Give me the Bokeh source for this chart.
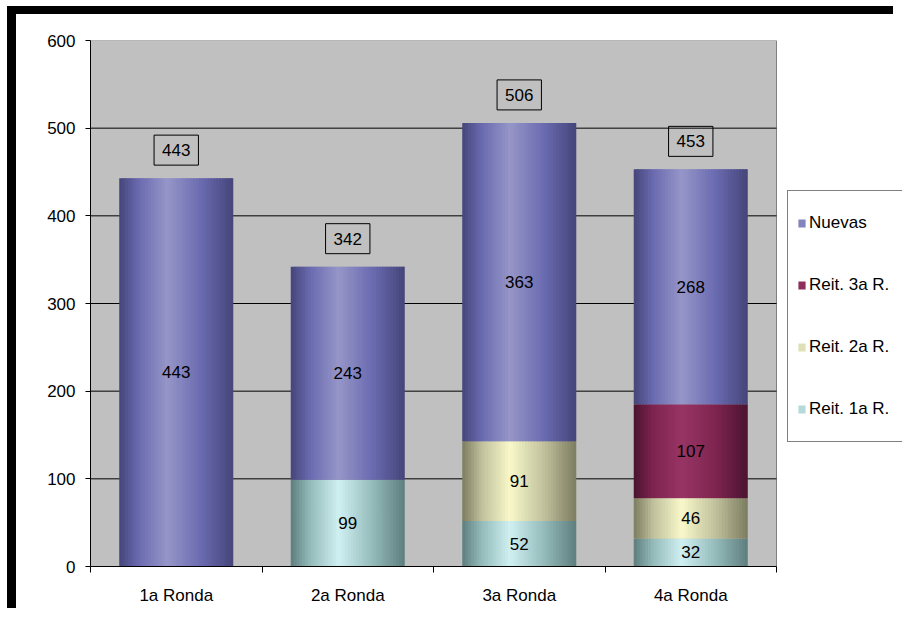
from bokeh.plotting import figure
from bokeh.models import (ColumnDataSource, FixedTicker, LabelSet, Legend,
                          LegendItem, Range1d)
from bokeh.core.properties import value
from bokeh.embed import file_html
from bokeh.resources import INLINE

# ---------------- data ----------------
rounds = ["1a Ronda", "2a Ronda", "3a Ronda", "4a Ronda"]
series_names = ["Reit. 1a R.", "Reit. 2a R.", "Reit. 3a R.", "Nuevas"]  # bottom -> top
reit1 = [0, 99, 52, 32]
reit2 = [0, 0, 91, 46]
reit3 = [0, 0, 0, 107]
nuevas = [443, 243, 363, 268]
y_ticks = [0, 100, 200, 300, 400, 500, 600]

series_values = [reit1, reit2, reit3, nuevas]

# gradient styles (dark edge, base, light centre)
palettes = {
    "Nuevas": ("#45457A", "#6A6AB0", "#9696C9"),
    "Reit. 3a R.": ("#4A1430", "#7E244F", "#983565"),
    "Reit. 2a R.": ("#7C7C60", "#C0C09C", "#F8F8CA"),
    "Reit. 1a R.": ("#5E7E7E", "#94BABA", "#D0F0F2"),
}


def h2r(h):
    h = h.lstrip("#")
    return [int(h[i:i + 2], 16) for i in (0, 2, 4)]


def r2h(c):
    return "#%02x%02x%02x" % tuple(int(round(v)) for v in c)


def grad(pal, t):
    dark, base, light = (h2r(c) for c in pal)
    stops = [(0.0, dark), (0.17, base), (0.42, light), (0.72, base), (1.0, dark)]
    for (t0, c0), (t1, c1) in zip(stops[:-1], stops[1:]):
        if t0 <= t <= t1:
            f = (t - t0) / (t1 - t0)
            return r2h([a + (b - a) * f for a, b in zip(c0, c1)])
    return r2h(stops[-1][1])


N = 40
BAR_W = 0.665
NC = len(rounds)
W, H = 886, 602
LEFT, TOP, BOTTOM = 74, 26, 50
PLOT_PX = 686  # width of the grey plot area
frame_w = W - LEFT
x_end = NC * frame_w / PLOT_PX
y_max = y_ticks[-1]

p = figure(width=W, height=H, output_backend="svg", toolbar_location=None,
           x_range=Range1d(0, x_end), y_range=Range1d(0, y_max),
           min_border_left=LEFT, min_border_right=0, min_border_top=TOP,
           min_border_bottom=BOTTOM)
p.styles = {"margin-left": "7px", "margin-top": "6px",
            "border-left": "9px solid black", "border-top": "8px solid black"}
p.background_fill_color = "white"
p.border_fill_color = "white"
p.outline_line_color = None

FONT = "Liberation Sans"
FS = "17px"

# grey plot area + grid
p.quad(left=[0], right=[NC], bottom=[0], top=[y_max], fill_color="#C0C0C0",
       line_color="#808080", line_width=1)
p.grid.visible = False
gy = y_ticks[1:-1]
p.segment(x0=[0] * len(gy), x1=[NC] * len(gy), y0=gy, y1=gy,
          line_color="black", line_width=1)

# y axis
p.yaxis.ticker = FixedTicker(ticks=y_ticks)
p.yaxis.axis_line_color = "black"
p.yaxis.major_tick_line_color = "black"
p.yaxis.major_tick_out = 5
p.yaxis.major_tick_in = 0
p.yaxis.minor_tick_line_color = None
p.yaxis.major_label_text_font = FONT
p.yaxis.major_label_text_font_size = FS
p.yaxis.major_label_text_color = "black"
p.yaxis.major_label_standoff = 10

# x axis
centers = [i + 0.5 for i in range(NC)]
p.xaxis.ticker = FixedTicker(ticks=centers, minor_ticks=[float(i) for i in range(NC + 1)])
p.xaxis.major_label_overrides = {c: r for c, r in zip(centers, rounds)}
p.xaxis.bounds = (0, NC)
p.xaxis.axis_line_color = "black"
p.xaxis.major_tick_line_color = None
p.xaxis.major_tick_out = 0
p.xaxis.major_tick_in = 0
p.xaxis.minor_tick_line_color = "black"
p.xaxis.minor_tick_out = 6
p.xaxis.minor_tick_in = 0
p.xaxis.major_label_text_font = FONT
p.xaxis.major_label_text_font_size = FS
p.xaxis.major_label_text_color = "black"
p.xaxis.major_label_standoff = 13

# bars as gradient strips (overlapping quads to avoid seams)
renderers = {}
seg_x, seg_y, seg_t = [], [], []
cum = [0] * NC
dw = BAR_W / N
for name, vals in zip(series_names, series_values):
    ls, rs, bots, tops, cols = [], [], [], [], []
    for i, v in enumerate(vals):
        if v <= 0:
            continue
        b, t = cum[i], cum[i] + v
        left0 = centers[i] - BAR_W / 2
        for k in range(N):
            frac = (k + 0.5) / N
            ls.append(left0 + k * dw)
            rs.append(left0 + (k + 1) * dw + (dw * 0.6 if k < N - 1 else 0))
            bots.append(b)
            tops.append(t)
            cols.append(grad(palettes[name], frac))
        seg_x.append(centers[i])
        seg_y.append((b + t) / 2)
        seg_t.append(str(v))
        cum[i] = t
    src = ColumnDataSource(dict(left=ls, right=rs, bottom=bots, top=tops, color=cols))
    renderers[name] = p.quad(left="left", right="right", bottom="bottom", top="top",
                             fill_color="color", line_color=None, source=src)

# segment labels
seg_src = ColumnDataSource(dict(x=seg_x, y=seg_y, text=seg_t))
p.add_layout(LabelSet(x="x", y="y", text="text", source=seg_src,
                      text_align="center", text_baseline="middle",
                      text_font=value(FONT), text_font_size=value(FS), text_color="black"))

# total labels
totals = [a + b + c + d for a, b, c, d in zip(reit1, reit2, reit3, nuevas)]
tot_src = ColumnDataSource(dict(x=centers, y=totals, text=[str(t) for t in totals]))
p.text(x="x", y="y", text="text", source=tot_src, y_offset=-28,
       text_align="center", text_baseline="middle",
       text_font=value(FONT), text_font_size=value(FS), text_color="black",
       border_line_color="black", border_line_width=1,
       background_fill_color=None, padding=dict(x=8, y=9))

# legend
idx = int(N * 0.3)
legend = Legend(items=[LegendItem(label=n, renderers=[renderers[n]], index=idx)
                       for n in ["Nuevas", "Reit. 3a R.", "Reit. 2a R.", "Reit. 1a R."]],
                location=(PLOT_PX + 11, 124), padding=9, spacing=16, label_height=46,
                glyph_height=10, glyph_width=9, label_standoff=3, margin=0,
                label_width=130,
                border_line_color="black", border_line_width=1,
                background_fill_color="white", background_fill_alpha=1,
                label_text_font=FONT, label_text_font_size="17px", label_text_color="black")
p.add_layout(legend, "center")

open("out.html", "w").write(file_html(p, INLINE))
